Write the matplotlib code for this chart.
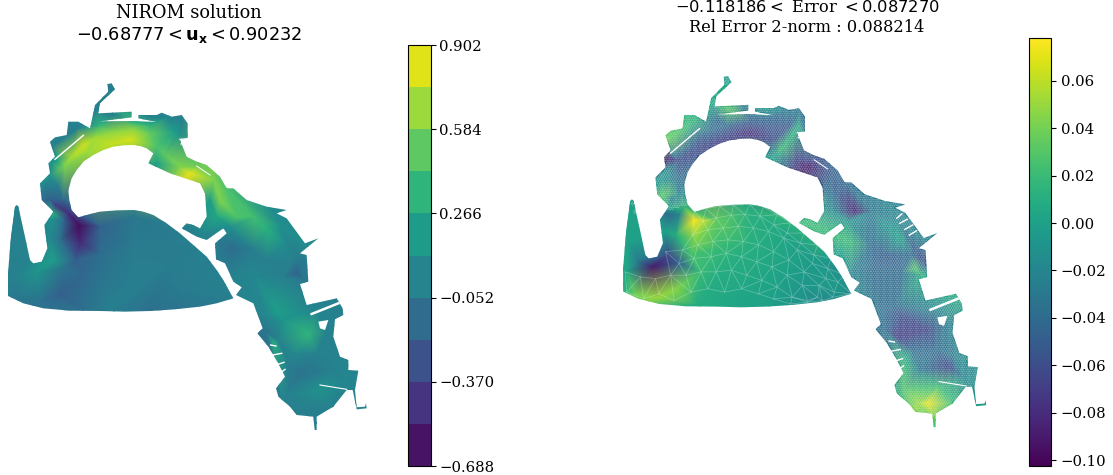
import numpy as np
import matplotlib
matplotlib.use('Agg')
import matplotlib.pyplot as plt
import matplotlib.tri as mtri
from matplotlib.path import Path
from matplotlib.patches import Polygon
from matplotlib.colors import BoundaryNorm, ListedColormap, Normalize
from matplotlib.colorbar import ColorbarBase

plt.rcParams['font.family'] = 'DejaVu Serif'
plt.rcParams['font.size'] = 10.7

# Shoreline of the bay (map units)
outline_x = [24, 24, 33, 45, 50, 55, 75, 90, 100, 125, 142, 133, 150, 160, 125, 120, 150, 145, 165, 150, 165, 200, 205, 235, 270, 285, 325,
             322, 335, 345, 300, 295, 395, 395, 300, 400, 470, 415, 415, 470, 485, 515, 545, 563, 563, 540, 560, 590, 620, 660, 680, 700, 740, 800, 860,
             830, 860, 915, 955, 900, 920, 925, 900, 920, 1010, 1028, 1030, 1005, 1000, 1020, 1045, 1045, 1075, 1065, 1070, 1095,
             1098, 1100, 1070, 1058, 1040, 1000, 950, 950, 944, 940, 890, 870, 835, 828, 855, 835, 805, 772, 788, 760, 708, 725,
             700, 675, 648, 645, 680, 670, 620, 590, 545, 560, 580, 600, 620, 615, 600, 510, 445, 460, 440, 420, 400, 370, 340, 310, 280, 250, 230, 215,
             205, 208, 215, 235, 270, 300, 350, 400, 430, 460, 500, 540, 580, 620, 650, 670, 700, 650, 600, 525, 450, 375, 300, 210, 130, 70]
outline_y = [708, 640, 530, 440, 435, 440, 530, 600, 610, 605, 565, 495, 470, 455, 420, 370, 340, 310, 290, 245, 232, 225, 185, 185, 205, 135, 95,
             72, 70, 88, 130, 160, 155, 172, 184, 183, 186, 175, 165, 165, 158, 170, 165, 190, 235, 240, 290, 305, 315, 350, 385, 385, 420, 440, 450,
             460, 475, 550, 535, 580, 585, 665, 672, 735, 715, 745, 765, 778, 830, 890, 900, 930, 932, 990, 1042, 1040,
             1030, 1045, 1048, 990, 990, 1040, 1070, 1110, 1110, 1070, 1065, 1040, 1010, 985, 950, 910, 860, 820, 805, 730, 705, 682,
             665, 610, 598, 550, 520, 505, 540, 530, 505, 490, 495, 505, 470, 400, 370, 340, 310, 280, 265, 258, 255, 256, 260, 270, 285, 305, 330, 355,
             390, 420, 450, 472, 462, 455, 451, 450, 455, 465, 490, 520, 555, 590, 630, 660, 715, 730, 740, 748, 753, 755, 753, 752, 745, 730]

# Small pieces of water cut out of the map
hole_x = [955, 985, 975, 960]
hole_y = [785, 780, 810, 805]
gap_x = [[165, 250], [540, 563], [543, 563], [590, 630], [935, 1015], [960, 1040], [812, 828], [818, 845], [828, 852], [840, 855]]
gap_y = [[298, 226], [238, 236], [252, 250], [318, 345], [762, 730], [975, 988], [855, 858], [885, 880], [915, 907], [940, 928]]
gap_width = [1.0, 0.9, 0.9, 0.7, 1.8, 0.8, 1.0, 1.0, 1.0, 1.0]

# White slots along the north-east shore, only visible on the right panel
slot_x = [[835, 850], [844, 866], [859, 882], [872, 894]]
slot_y = [[491, 478], [506, 494], [524, 511], [541, 528]]

# Sample points with the value of each panel
node_x = [0, 600, 1120, 1120, 800, 0,
          45, 40, 35, 40, 113, 160, 192, 70, 123, 180, 60, 240, 250,
          235, 240, 225, 300, 300, 160, 190, 150, 180,
          400, 500, 400, 500, 600, 400, 550, 330, 450, 660, 300,
          165, 160, 150, 190, 140, 175, 205,
          150, 190, 157, 215, 250, 280, 260, 330, 340, 400, 395, 450, 470, 520, 545, 542, 500,
          494, 470, 540, 570, 600, 640, 680, 660, 711, 760, 800, 840, 850, 880,
          650, 630, 690, 610, 570, 696, 760, 670, 800, 760, 700, 898, 890, 850, 910,
          830, 924, 800, 835, 820, 900, 992, 960, 900, 927, 860, 850, 1000, 950, 1030, 1000,
          950, 880, 800, 850, 900, 950, 980, 1020, 1060, 860,
          232, 157, 340, 450, 320, 290, 300, 400, 450, 170]
node_y = [50, 50, 700, 1130, 1130, 780,
          450, 560, 650, 700, 635, 600, 624, 620, 727, 700, 715, 745, 650,
          496, 550, 600, 500, 580, 480, 480, 530, 540,
          470, 530, 560, 620, 620, 680, 700, 745, 745, 690, 660,
          435, 460, 420, 420, 380, 375, 460,
          350, 320, 312, 290, 255, 235, 280, 215, 250, 205, 240, 220, 260, 215, 180, 220, 175,
          283, 310, 320, 340, 320, 360, 385, 420, 472, 470, 510, 500, 555, 600,
          470, 420, 500, 520, 500, 562, 570, 590, 600, 650, 650, 607, 640, 650, 660,
          750, 822, 820, 843, 845, 940, 932, 990, 1040, 1039, 1000, 1040, 1040, 1090, 960, 900,
          880, 880, 770, 780, 760, 760, 810, 720, 760, 900,
          206, 259, 168, 172, 90, 150, 195, 188, 195, 305]
node_left = [-0.02, 0.0, 0.0, 0.0, 0.0, -0.02,
             0.0, 0.01, 0.0, -0.03, 0.14, 0.2, -0.08, 0.02, -0.1, -0.2, -0.05, -0.12, -0.15,
             -0.65, -0.5, -0.2, -0.18, -0.12, 0.1, -0.15, 0.05, -0.1,
             -0.05, -0.03, -0.03, -0.02, -0.01, 0.0, -0.03, 0.0, -0.1, 0.0, -0.07,
             -0.4, 0.3, -0.2, -0.15, -0.02, 0.0, -0.5,
             0.1, 0.58, 0.15, 0.7, 0.78, 0.68, 0.66, 0.62, 0.76, 0.62, 0.8, 0.52, 0.45, 0.2, 0.0, 0.1, 0.05,
             0.5, 0.2, 0.6, 0.85, 0.55, 0.6, 0.45, 0.6, 0.45, 0.42, 0.32, 0.1, 0.1, 0.0,
             0.25, 0.2, 0.1, 0.05, 0.0, -0.12, -0.02, -0.05, 0.0, 0.05, 0.02, -0.05, -0.2, 0.0, -0.05,
             0.2, 0.35, -0.08, 0.02, 0.3, -0.08, 0.0, 0.12, 0.0, 0.0, 0.0, 0.0, 0.0, -0.02, 0.05, 0.02,
             0.02, 0.05, 0.05, 0.15, 0.1, 0.05, 0.02, 0.0, 0.0, 0.0,
             0.0, 0.0, 0.02, 0.02, -0.02, 0.0, 0.35, 0.38, 0.32, 0.2]
node_right = [0.005, -0.03, -0.03, 0.01, 0.02, 0.01,
              0.0, 0.0, 0.005, 0.02, -0.09, -0.06, -0.045, -0.03, 0.05, 0.045, 0.04, 0.01, 0.02,
              0.077, 0.045, 0.025, 0.035, 0.02, -0.04, -0.02, 0.0, 0.01,
              0.012, 0.005, 0.012, 0.003, -0.005, 0.005, -0.007, 0.005, 0.0, -0.005, 0.01,
              -0.03, 0.0, 0.03, -0.02, -0.01, -0.03, 0.02,
              -0.01, -0.06, -0.09, -0.05, -0.05, -0.04, -0.065, -0.04, -0.07, -0.05, -0.08, -0.055, -0.06, -0.05, -0.03, 0.01, -0.03,
              0.02, 0.0, -0.07, -0.09, -0.06, -0.05, -0.04, -0.05, -0.085, -0.03, -0.01, -0.02, 0.0, -0.04,
              -0.02, -0.03, -0.01, 0.02, 0.02, 0.02, -0.04, 0.0, -0.05, -0.04, -0.02, -0.06, 0.03, -0.04, 0.01,
              -0.04, -0.065, -0.04, -0.07, -0.03, -0.03, -0.065, 0.02, 0.05, 0.072, 0.03, 0.02, 0.02, 0.03, -0.02, -0.03,
              -0.04, -0.04, -0.04, -0.06, -0.03, -0.02, -0.03, 0.01, 0.0, 0.01,
              0.015, 0.035, 0.03, -0.01, 0.0, 0.005, -0.04, -0.04, -0.04, -0.03]

# Coarse mesh nodes of the outer basin, as seen on the right panel
dome_x = [235, 270, 310, 350, 400, 440, 480, 520, 560, 600, 640, 680, 700,
          260, 300, 345, 385, 430, 470, 510, 550, 590, 630, 660,
          230, 275, 320, 365, 410, 455, 500, 540, 585, 625,
          200, 245, 290, 335, 380, 425, 470, 515, 560, 605, 650,
          150, 190, 235, 285, 330, 375, 420, 465, 510, 555, 600, 645,
          30, 75, 120, 165, 210, 255, 300, 345, 390, 435, 480, 525, 570, 615,
          35, 85, 130, 175, 225, 275, 325, 375, 425, 470, 520, 570]
dome_y = [470, 462, 456, 452, 450, 458, 480, 505, 535, 570, 610, 660, 715,
          500, 490, 482, 480, 485, 510, 535, 565, 600, 640, 680,
          540, 525, 520, 515, 520, 530, 550, 585, 625, 670,
          585, 570, 560, 555, 560, 570, 590, 615, 650, 690, 710,
          590, 625, 610, 605, 595, 605, 620, 635, 660, 690, 725, 725,
          650, 665, 670, 660, 660, 650, 650, 645, 660, 675, 695, 725, 735, 735,
          710, 730, 715, 735, 710, 700, 710, 700, 715, 730, 745, 740]

# Where the fine mesh stops and the coarse one starts
dome_edge_x = [235, 300, 400, 460, 540, 620, 670, 700, 600, 450, 300, 130, 24, 24, 45, 95, 142, 133, 160, 205]
dome_edge_y = [472, 455, 450, 465, 520, 590, 660, 715, 740, 753, 753, 745, 708, 640, 440, 605, 565, 495, 470, 455]

left_min = -0.688
left_max = 0.902
left_ticks = [-0.688, -0.370, -0.052, 0.266, 0.584, 0.902]
left_bounds = [-0.688, -0.529, -0.370, -0.211, -0.052, 0.107, 0.266, 0.425, 0.584, 0.743, 0.902]
right_min = -0.1025
right_max = 0.0781
right_ticks = [-0.10, -0.08, -0.06, -0.04, -0.02, 0.00, 0.02, 0.04, 0.06]

W, H = 1113.0, 475.0


def pixel_axes(fig, x0, y0, x1, y1):
    '''Axes from a box given in picture pixels, y going down'''
    return fig.add_axes([x0 / W, 1 - y1 / H, (x1 - x0) / W, (y1 - y0) / H])


def map_axes(fig, box, ox, oy, scale):
    ax = pixel_axes(fig, *box)
    ax.set_xlim((box[0] - ox) / scale, (box[2] - ox) / scale)
    ax.set_ylim((box[3] - oy) / scale, (box[1] - oy) / scale)
    ax.axis('off')
    return ax


def draw_field(ax, values, vmin, vmax):
    tri = mtri.Triangulation(node_x, node_y)
    pc = ax.tripcolor(tri, values, shading='gouraud', cmap='viridis', vmin=vmin, vmax=vmax)
    clip = Polygon(np.column_stack([outline_x, outline_y]), closed=True, transform=ax.transData)
    pc.set_clip_path(clip)
    return clip


def draw_water(ax):
    ax.fill(hole_x, hole_y, color='white', lw=0)
    for gx, gy, gw in zip(gap_x, gap_y, gap_width):
        ax.plot(gx, gy, color='white', lw=gw)


fig = plt.figure(figsize=(W / 100, H / 100), dpi=100)

# Left panel
ax1 = map_axes(fig, (0, 45, 378, 466), 0.0, 60.0, 1 / 3)
draw_field(ax1, node_left, left_min, left_max)
draw_water(ax1)
ax1.set_title('NIROM solution\n' + r'$-0.68777 < \mathbf{u_x} < 0.90232$', pad=3, fontsize=12.75)

cax1 = pixel_axes(fig, 408, 45, 431, 466)
band_colors = plt.get_cmap('viridis')(np.linspace(0.05, 0.95, len(left_bounds) - 1))
cb1 = ColorbarBase(cax1, cmap=ListedColormap(band_colors), norm=BoundaryNorm(left_bounds, len(left_bounds) - 1),
                   ticks=left_ticks, spacing='proportional')
cb1.ax.minorticks_off()
cb1.ax.tick_params(axis='y', pad=2.5)
cb1.ax.set_yticklabels(['\u2212%.3f' % abs(t) if t < 0 else '%.3f' % t for t in left_ticks])

# Right panel
ax2 = map_axes(fig, (604, 38, 1010, 466), 615.0, 52.5, 0.3375)
clip2 = draw_field(ax2, node_right, right_min, right_max)

# Fine mesh over the estuary, coarse one over the basin
gx, gy = np.meshgrid(np.arange(20, 1110, 7.0), np.arange(60, 1120, 6.06))
gx[1::2] += 3.5
fine = np.column_stack([gx.ravel(), gy.ravel()])
inside_shore = Path(np.column_stack([outline_x, outline_y])).contains_points(fine)
inside_dome = Path(np.column_stack([dome_edge_x, dome_edge_y])).contains_points(fine)
fine = fine[inside_shore & ~inside_dome]
tri_fine = mtri.Triangulation(fine[:, 0], fine[:, 1])
tri_dome = mtri.Triangulation(dome_x, dome_y)
# drop the long slivers the triangulation makes across the water
for tri in (tri_fine, tri_dome):
    limit = 12.0 if tri is tri_fine else 85.0
    corners_x = tri.x[tri.triangles]
    corners_y = tri.y[tri.triangles]
    side = np.hypot(corners_x - np.roll(corners_x, 1, axis=1), corners_y - np.roll(corners_y, 1, axis=1))
    tri.set_mask(side.max(axis=1) > limit)
mesh1 = ax2.triplot(tri_fine, color='white', lw=0.3, alpha=0.33)
mesh2 = ax2.triplot(tri_dome, color='white', lw=0.5, alpha=0.3)
for ln in mesh1 + mesh2:
    ln.set_clip_path(clip2)
draw_water(ax2)
for sx, sy in zip(slot_x, slot_y):
    ax2.plot(sx, sy, color='white', lw=1.0)
ax2.set_title(r'$-0.118186 <$ Error $ < 0.087270$' + '\nRel Error 2-norm : 0.088214', pad=4.5, fontsize=11.7)

cax2 = pixel_axes(fig, 1029, 38, 1051, 466)
cb2 = ColorbarBase(cax2, cmap='viridis', norm=Normalize(right_min, right_max), ticks=right_ticks)
cb2.ax.set_yticklabels(['\u2212%.2f' % abs(t) if t < 0 else '%.2f' % t for t in right_ticks])

plt.savefig('out.png', dpi=100)
